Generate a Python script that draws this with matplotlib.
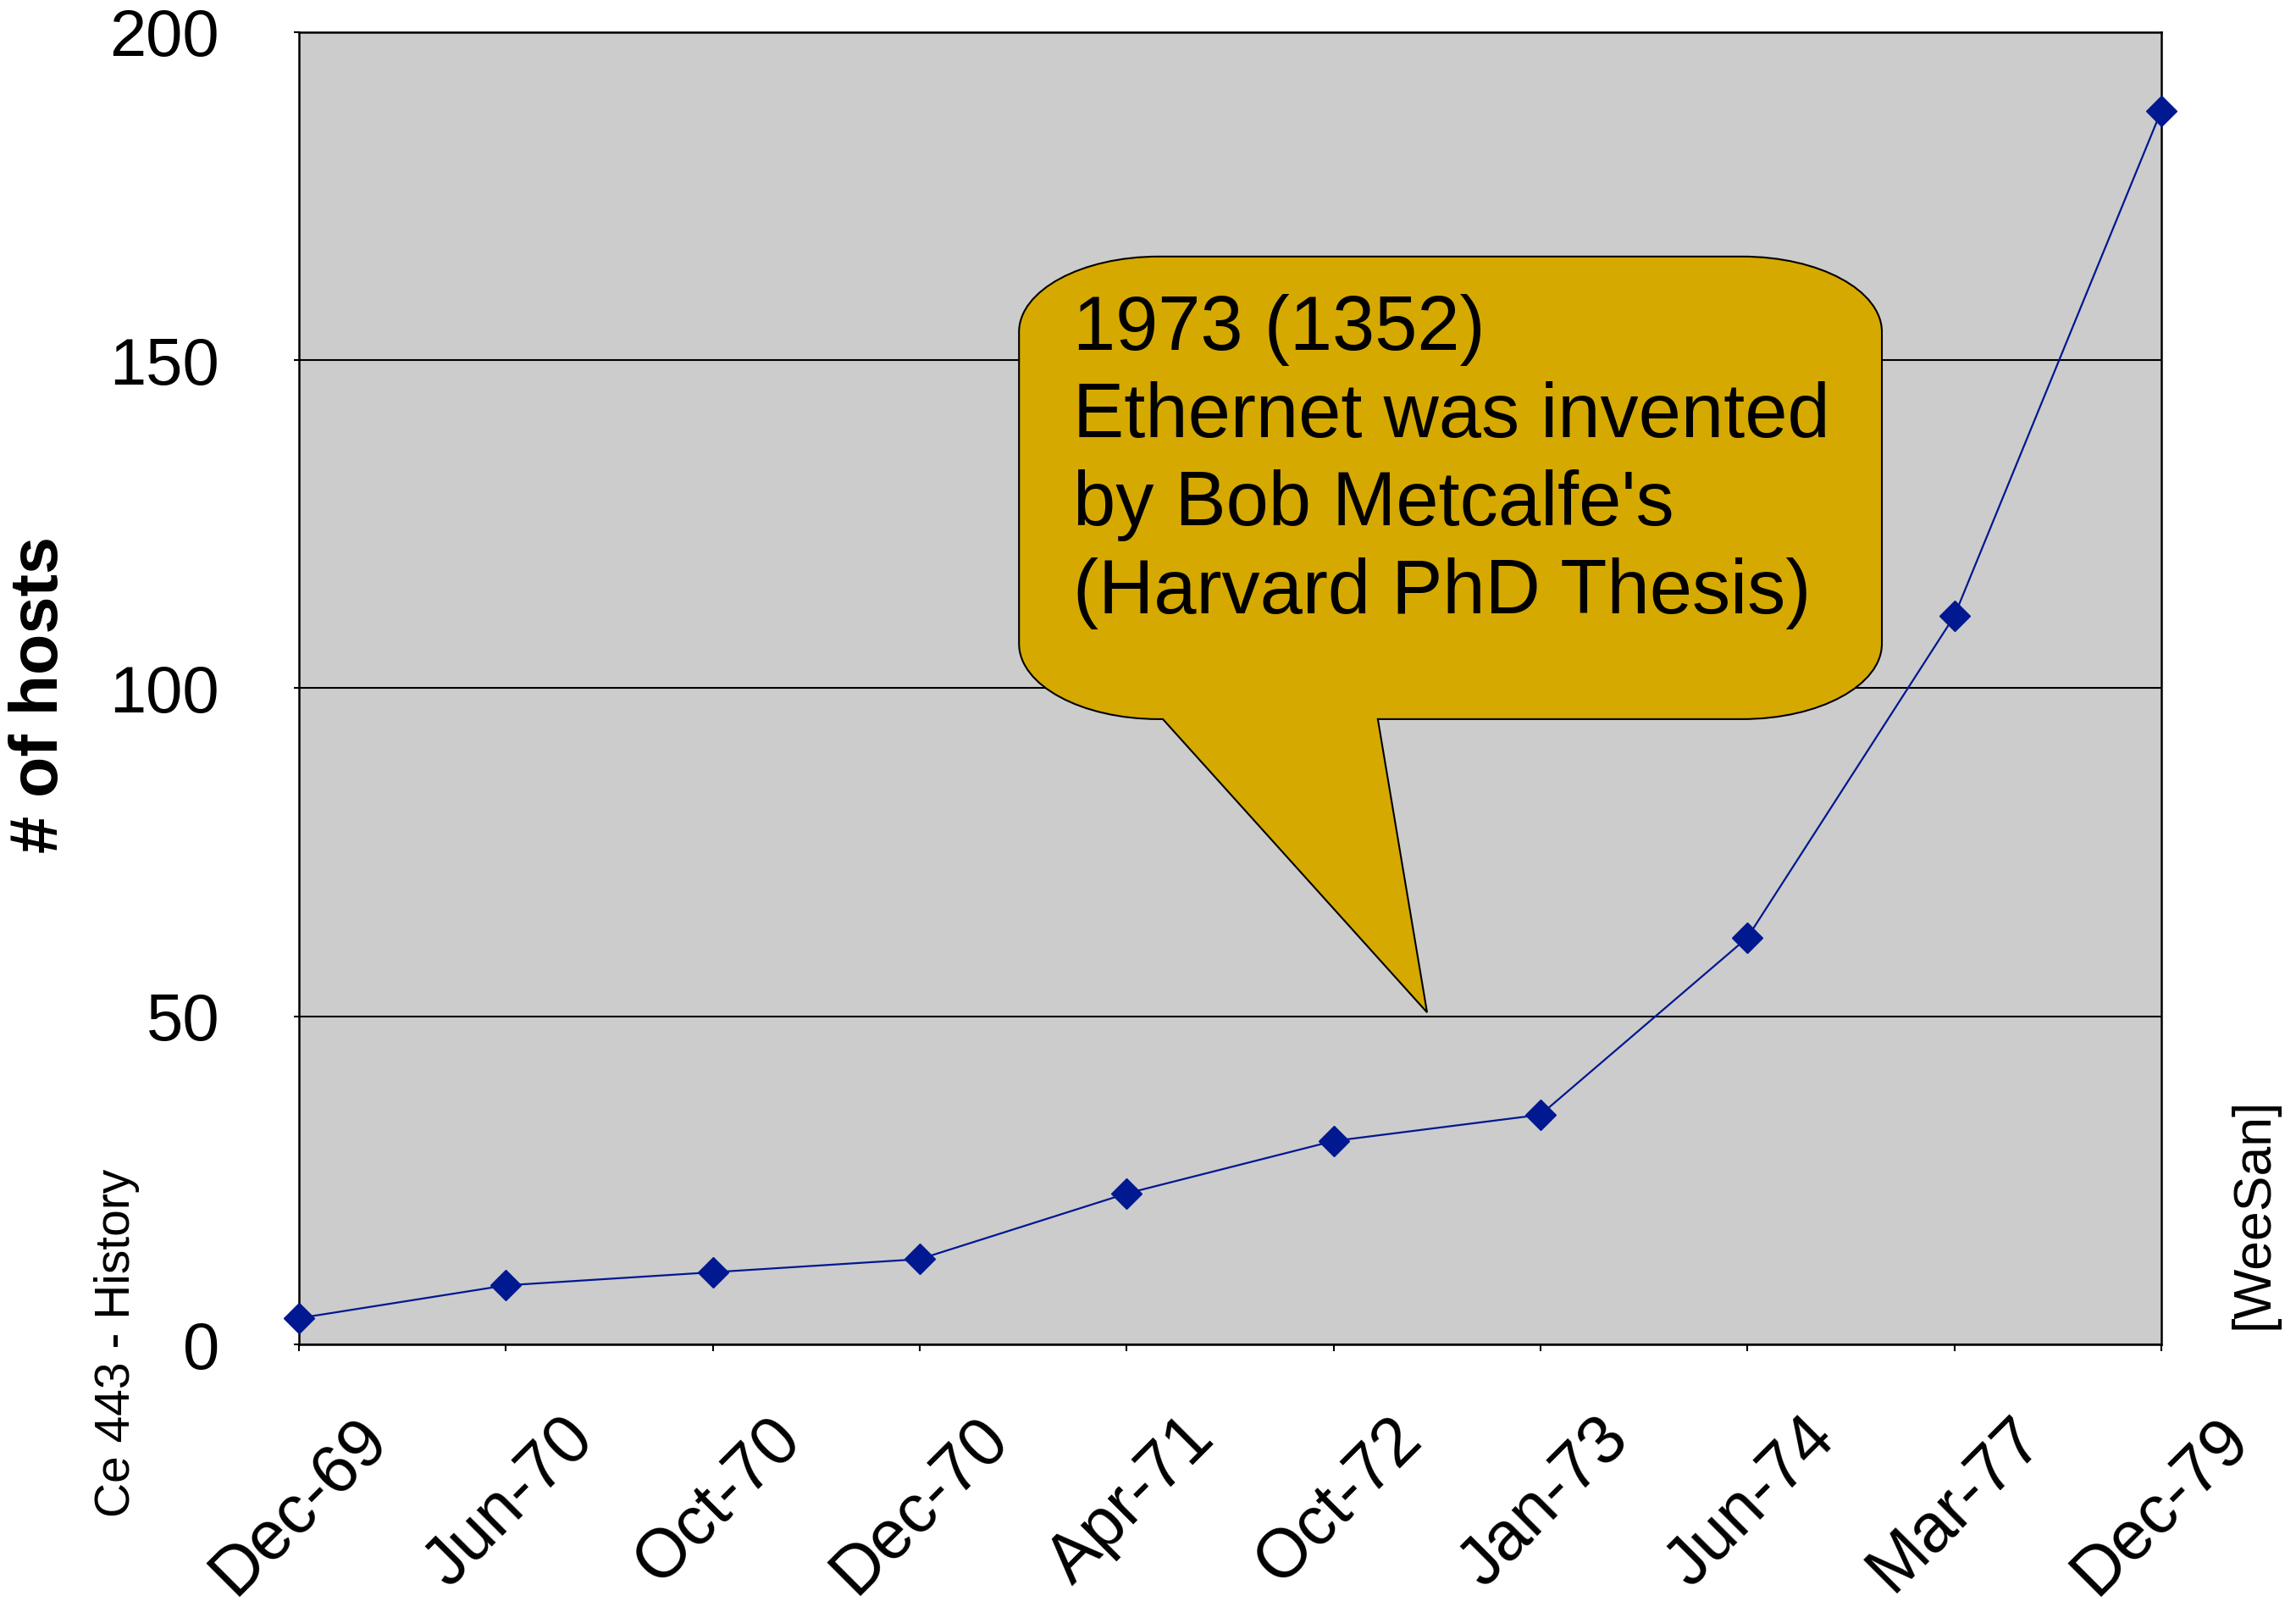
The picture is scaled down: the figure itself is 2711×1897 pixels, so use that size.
import matplotlib
matplotlib.use("Agg")
import matplotlib.pyplot as plt
from matplotlib.path import Path
from matplotlib.patches import PathPatch
from matplotlib.transforms import ScaledTranslation

# DATA
months = ["Dec-69", "Jun-70", "Oct-70", "Dec-70", "Apr-71",
          "Oct-72", "Jan-73", "Jun-74", "Mar-77", "Dec-79"]
hosts = [4, 9, 11, 13, 23, 31, 35, 62, 111, 188]
y_ticks = [0, 50, 100, 150, 200]
note_lines = ["1973 (1352)", "Ethernet was invented",
              "by Bob Metcalfe's", "(Harvard PhD Thesis)"]

plt.rcParams["font.family"] = ["Liberation Sans", "DejaVu Sans"]

fig = plt.figure(figsize=(27.11, 18.97), dpi=100)
ax = fig.add_axes([0.1302, 0.1634, 0.8111, 0.8166])
ax.set_facecolor("#CCCCCC")

x = list(range(len(months)))
ax.plot(x, hosts, color="#001890", lw=1.6, marker="D", ms=18,
        clip_on=False, zorder=4)

ax.set_xlim(0, len(months) - 1)
ax.set_ylim(0, 200)
ax.set_yticks(y_ticks)
ax.yaxis.grid(True, color="black", lw=1.5)
ax.set_axisbelow(True)
for s in ax.spines.values():
    s.set_color("black")
    s.set_linewidth(1.8)

ax.tick_params(axis="y", length=4.5, width=1.5, pad=63, labelsize=56)
ax.tick_params(axis="x", length=6, width=1.5, pad=0, labelsize=58)
ax.set_xticks(x)
ax.set_xticklabels(months, rotation=45, ha="right", va="center",
                   rotation_mode="anchor")
# excel puts the rotated labels down and to the right of the tick
shift = ScaledTranslation(0.92, -0.91, fig.dpi_scale_trans)
for lab in ax.get_xticklabels():
    lab.set_transform(lab.get_transform() + shift)

ax.set_ylabel("# of hosts", fontsize=57, fontweight="bold")
ax.yaxis.set_label_coords(-0.139, 0.495)
ax.yaxis.label.set_va("center")

# CALLOUT (rounded box with a pointer), in data units
x0, x1, y0, y1 = 3.48, 7.65, 95.3, 165.8
rx, ry = 0.675, 11.5
k = 0.5523
px_l, px_r, tip = 4.175, 5.214, (5.452, 50.6)
verts = [
    (x0 + rx, y1), (x1 - rx, y1),
    (x1 - rx + k * rx, y1), (x1, y1 - ry + k * ry), (x1, y1 - ry),
    (x1, y0 + ry),
    (x1, y0 + ry - k * ry), (x1 - rx + k * rx, y0), (x1 - rx, y0),
    (px_r, y0), tip, (px_l, y0),
    (x0 + rx, y0),
    (x0 + rx - k * rx, y0), (x0, y0 + ry - k * ry), (x0, y0 + ry),
    (x0, y1 - ry),
    (x0, y1 - ry + k * ry), (x0 + rx - k * rx, y1), (x0 + rx, y1),
    (x0 + rx, y1),
]
codes = [Path.MOVETO, Path.LINETO,
         Path.CURVE4, Path.CURVE4, Path.CURVE4,
         Path.LINETO,
         Path.CURVE4, Path.CURVE4, Path.CURVE4,
         Path.LINETO, Path.LINETO, Path.LINETO,
         Path.LINETO,
         Path.CURVE4, Path.CURVE4, Path.CURVE4,
         Path.LINETO,
         Path.CURVE4, Path.CURVE4, Path.CURVE4,
         Path.CLOSEPOLY]
ax.add_patch(PathPatch(Path(verts, codes), facecolor="#D5A900",
                       edgecolor="black", lw=1.5, zorder=3))

for i, line in enumerate(note_lines):
    ax.text(3.74, 151.6 - i * 13.38, line, fontsize=65, ha="left",
            va="baseline", zorder=5)

fig.text(138 / 2711, 1 - 1585 / 1897, "Ce 443 - History", rotation=90,
         ha="center", va="center", fontsize=41)
fig.text(2661 / 2711, 1 - 1432 / 1897, "[WeeSan]", rotation=90,
         ha="center", va="center", fontsize=45)

fig.savefig("out.png", dpi=100)
